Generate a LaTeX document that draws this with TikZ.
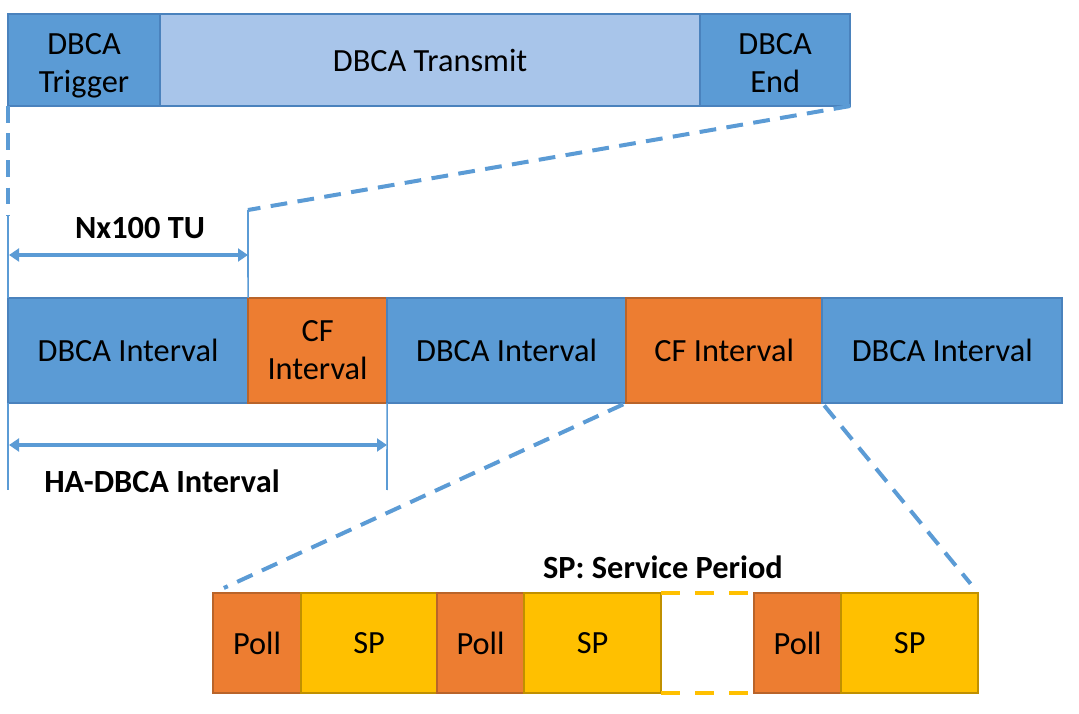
\documentclass[tikz,border=0pt]{standalone}
\usepackage{fontspec}
\setmainfont{Carlito}
\usetikzlibrary{positioning,arrows.meta}
\definecolor{dbcablue}{HTML}{5B9BD5}
\definecolor{dbcaline}{HTML}{4A82BD}
\definecolor{txblue}{HTML}{A8C5EA}
\definecolor{cforange}{HTML}{ED7D31}
\definecolor{cfline}{HTML}{B9642A}
\definecolor{spyellow}{HTML}{FFC000}
\definecolor{spline}{HTML}{C09000}

\begin{document}
\begin{tikzpicture}[x=0.025cm, y=-0.025cm,
		every node/.style={font=\fontsize{23}{27}\selectfont, align=center, inner sep=0pt, outer sep=0pt},
		blk/.style={draw, line width=0.04cm, anchor=west},
		dbca/.style={blk, fill=dbcablue, draw=dbcaline},
		txbox/.style={blk, fill=txblue, draw=dbcaline},
		cfbox/.style={blk, fill=cforange, draw=cfline},
		spbox/.style={blk, fill=spyellow, draw=spline},
		zoomline/.style={dbcablue, line width=0.1cm, dash pattern=on 0.42cm off 0.26cm},
		extline/.style={dbcablue, line width=0.04cm},
		dimarrow/.style={dbcablue, line width=0.08cm, {Triangle[length=0.25cm,width=0.32cm]}-{Triangle[length=0.25cm,width=0.32cm]}},
		gapdash/.style={spyellow, line width=0.09cm, dash pattern=on 0.475cm off 0.375cm},
		lbl/.style={font=\fontsize{23}{27}\selectfont\bfseries}]
	\useasboundingbox (0,0) rectangle (1079,714);
	
	% top frame
	\node [dbca, minimum width=3.8cm, minimum height=2.3cm, label={[yshift=-0.14cm]center:{DBCA\strut\\Trigger\strut}}] (trig) at (8,60) {};
	\node [txbox, minimum width=13.5cm, minimum height=2.3cm, right=0pt of trig] (tx) {DBCA Transmit};
	\node [dbca, minimum width=3.75cm, minimum height=2.3cm, right=0pt of tx, label={[yshift=-0.14cm]center:{DBCA\strut\\End\strut}}] (endb) {};
	
	% interval bar
	\node [dbca, minimum width=6cm, minimum height=2.625cm] (i1) at (8,350.5) {DBCA Interval};
	\node [cfbox, minimum width=3.475cm, minimum height=2.625cm, right=0pt of i1] (c1) {CF\\Interval};
	\node [dbca, minimum width=5.975cm, minimum height=2.625cm, right=0pt of c1] (i2) {DBCA Interval};
	\node [cfbox, minimum width=4.9cm, minimum height=2.625cm, right=0pt of i2] (c2) {CF Interval};
	\node [dbca, minimum width=6cm, minimum height=2.625cm, right=0pt of c2] (i3) {DBCA Interval};
	
	% poll / service periods
	\node [cfbox, minimum width=2.2cm, minimum height=2.5cm] (p1) at (213,643) {Poll};
	\node [spbox, minimum width=3.4cm, minimum height=2.5cm, right=0pt of p1] (s1) {SP};
	\node [cfbox, minimum width=2.175cm, minimum height=2.5cm, right=0pt of s1] (p2) {Poll};
	\node [spbox, minimum width=3.425cm, minimum height=2.5cm, right=0pt of p2] (s2) {SP};
	\node [blk, draw=none, minimum width=2.325cm, minimum height=2.5cm, right=0pt of s2] (gap) {};
	\node [cfbox, minimum width=2.175cm, minimum height=2.5cm, right=0pt of gap] (p3) {Poll};
	\node [spbox, minimum width=3.425cm, minimum height=2.5cm, right=0pt of p3] (s3) {SP};
	\draw [gapdash] (gap.north west) -- (gap.north east);
	\draw [gapdash] (gap.south west) -- (gap.south east);
	
	% labels
	\node [lbl] (nxlbl) at (140,228) {Nx100 TU};
	\node [lbl] (halbl) at (162,481) {HA-DBCA Interval};
	\node [lbl] (splbl) at (663,567) {SP: Service Period};
	
	\coordinate (nl) at (8,215);
	\coordinate (nr) at (248,210);
	\coordinate (lb) at (8,490);
	\coordinate (hb) at (387,490);
	\coordinate (a1) at (9,255);
	\coordinate (a2) at (248,255);
	\coordinate (b1) at (9,445);
	\coordinate (b2) at (387,445);
	
	% zoom lines
	\draw [zoomline] (trig.south west) -- (nl);
	\draw [zoomline] (endb.south east) -- (nr);
	\draw [zoomline, shorten <=0.08cm, shorten >=0.3cm] (c2.south west) -- (p1.north west);
	\draw [zoomline, shorten <=0.08cm, shorten >=0.3cm] (c2.south east) -- (s3.north east);
	
	% extension lines and spans
	\draw [extline] (nl) -- (i1.north west);
	\draw [extline] (i1.south west) -- (lb);
	\draw [extline] (nr) -- (i1.north east);
	\draw [extline] (c1.south east) -- (hb);
	\draw [dimarrow] (a1) -- (a2);
	\draw [dimarrow] (b1) -- (b2);
\end{tikzpicture}
\end{document}
